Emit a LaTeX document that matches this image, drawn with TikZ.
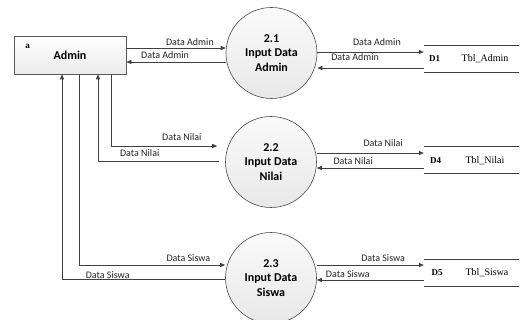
\documentclass[tikz,border=0pt]{standalone}
\usepackage{fontspec}
\setmainfont{Liberation Serif}
\newfontfamily\calfont{Carlito}
\usetikzlibrary{arrows.meta,calc}
\begin{document}
\begin{tikzpicture}[x=1pt,y=-1pt,
  line/.style={draw=black!75, line width=0.6pt},
  arr/.style={line, -{Triangle[length=5pt,width=4pt]}},
  lbl/.style={font=\calfont\fontsize{10}{12}\selectfont, inner sep=0pt, text=black!85},
  proc/.style={circle, draw=black!70, line width=0.6pt, top color=black!2, bottom color=black!9, minimum size=91pt, inner sep=0pt, align=center, font=\calfont\bfseries\fontsize{12}{14.5}\selectfont},
  ent/.style={draw=black!65, line width=0.6pt, top color=white, bottom color=black!8, minimum width=112pt, minimum height=38pt, inner sep=0pt, font=\calfont\bfseries\fontsize{12}{14}\selectfont},
  store/.style={minimum width=95pt, minimum height=26pt, inner sep=0pt},
  sid/.style={font=\bfseries\fontsize{9}{11}\selectfont, inner sep=0pt},
  sname/.style={font=\fontsize{10}{12}\selectfont, inner sep=0pt}]
\useasboundingbox (0,0) rectangle (523,320);
\fill[white] (0,0) rectangle (523,320);

% external entity
\node[ent] (admin) at (70,55) {Admin};
\node[font=\bfseries\fontsize{9}{10}\selectfont, inner sep=0pt] (atag) at (27.5,46) {a};

% processes
\node[proc] (p1) at (271.5,53) {2.1\\Input Data\\Admin};
\node[proc] (p2) at (271,162) {2.2\\Input Data\\Nilai};
\node[proc] (p3) at (271,278) {2.3\\Input Data\\Siswa};

% data stores
\node[store] (d1) at (471.5,59) {};
\draw[line] (d1.north west) -- (d1.north east) (d1.south west) -- (d1.south east);
\node[sid] (d1id) at (434.5,58.5) {D1};
\node[sname] (d1n) at (485,58.5) {Tbl\_Admin};

\node[store] (d4) at (471.5,160) {};
\draw[line] (d4.north west) -- (d4.north east) (d4.south west) -- (d4.south east);
\node[sid] (d4id) at (435.5,161) {D4};
\node[sname] (d4n) at (485,161) {Tbl\_Nilai};

\node[store] (d5) at (471.5,273) {};
\draw[line] (d5.north west) -- (d5.north east) (d5.south west) -- (d5.south east);
\node[sid] (d5id) at (437,272.5) {D5};
\node[sname] (d5n) at (487,272.5) {Tbl\_Siswa};

% Admin <-> 2.1
\draw[arr] ([yshift=7pt]admin.east) -- node[lbl,pos=0.64,yshift=6pt]{Data Admin} ([yshift=7pt]admin.east -| p1.west);
\draw[arr] ([yshift=-7pt]admin.east -| p1.west) -- node[lbl,pos=0.61,yshift=7pt]{Data Admin} ([yshift=-7pt]admin.east);

% 2.1 <-> D1
\draw[arr] ([yshift=7pt]d1.west -| p1.east) -- node[lbl,pos=0.56,yshift=10pt]{Data Admin} ([yshift=7pt]d1.west);
\draw[arr] ([yshift=-9pt]d1.west) -- node[lbl,pos=0.645,yshift=10.5pt]{Data Admin} ([yshift=-9pt]d1.west -| p1.east);

% Admin <-> 2.2
\draw[arr, shorten >=8pt] ([xshift=41pt]admin.south) |- node[lbl,pos=0.81,yshift=9pt]{Data Nilai} ([yshift=16pt]p2.west);
\draw[arr, shorten <=6pt] ([yshift=1pt]p2.west) -| node[lbl,pos=0.336,yshift=7.5pt]{Data Nilai} ([xshift=28pt]admin.south);

% 2.2 <-> D4
\draw[arr] ([yshift=7pt]d4.west -| p2.east) -- node[lbl,pos=0.62,yshift=9.5pt]{Data Nilai} ([yshift=7pt]d4.west);
\draw[arr] ([yshift=-8pt]d4.west) -- node[lbl,pos=0.66,yshift=7.3pt]{Data Nilai} ([yshift=-8pt]d4.west -| p2.east);

% Admin <-> 2.3
\draw[arr] ([xshift=9pt]admin.south) |- node[lbl,pos=0.874,yshift=7.3pt]{Data Siswa} ([yshift=13pt]p3.west);
\draw[arr] ([yshift=-1pt]p3.west) -| node[lbl,pos=0.36,yshift=3.5pt]{Data Siswa} ([xshift=-8pt]admin.south);

% 2.3 <-> D5
\draw[arr] ([yshift=8pt]d5.west -| p3.east) -- node[lbl,pos=0.62,yshift=7.3pt]{Data Siswa} ([yshift=8pt]d5.west);
\draw[arr] ([yshift=-7pt]d5.west) -- node[lbl,pos=0.71,yshift=6pt]{Data Siswa} ([yshift=-7pt]d5.west -| p3.east);
\end{tikzpicture}
\end{document}
